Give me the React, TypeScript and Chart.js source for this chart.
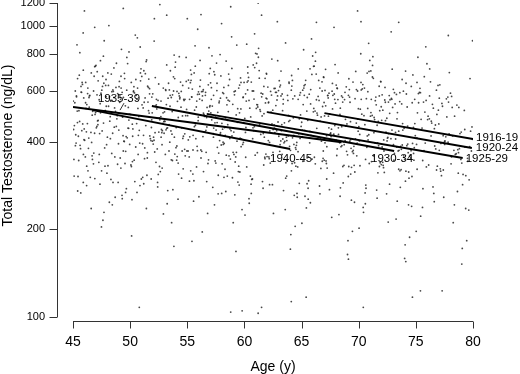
import React, { useEffect, useRef } from "react";
import { Chart, registerables } from "chart.js";

Chart.register(...registerables);

// ---- axis ticks and titles ----
const xTicks = [45, 50, 55, 60, 65, 70, 75, 80];
const yTicks = [100, 200, 400, 600, 800, 1000, 1200];
const xTitle = "Age (y)";
const yTitle = "Total Testosterone (ng/dL)";

// ---- cohort regression lines (age, total testosterone ng/dL) ----
const cohortLabels = ["1916-19", "1920-24", "1925-29", "1930-34", "1935-39", "1940-45"];
const cohortStartAge = [67.0, 62.0, 56.7, 51.9, 45.0, 46.7];
const cohortStartTT = [502, 506, 499, 531, 527, 514];
const cohortEndAge = [80.0, 79.9, 79.1, 73.1, 68.5, 64.0];
const cohortEndTT = [409, 381, 352, 372, 399, 378];

// ---- individual measurements: flattened [age, TT] pairs ----
const ages45to50 = [47.83,512,45.21,388,49.06,645,46.57,431,48.32,297,45.94,566,47.15,472,49.71,780,46.08,355,48.64,523,45.47,418,47.52,602,49.29,262,46.93,497,48.05,690,45.66,379,47.38,541,49.87,445,46.31,318,48.91,586,45.12,455,47.01,733,49.45,402,46.72,509,48.18,248,45.83,630,47.67,464,49.13,352,46.44,575,48.47,428,45.35,862,47.94,391,49.58,532,46.19,283,48.76,615,45.58,470,47.26,340,49.92,498,46.85,672,48.27,410,45.02,552,47.71,229,49.34,486,46.63,398,48.58,718,45.77,437,47.45,588,49.19,325,46.26,462,48.11,530,45.41,271,47.89,655,49.65,417,46.98,504,48.39,365,45.89,947,47.09,452,49.41,568,46.51,302,48.84,480,45.27,396,47.58,620,49.01,439,46.14,521,48.69,258,45.71,593,47.33,427,49.78,743,46.79,336,48.22,471,45.16,545,47.77,381,49.52,660,46.38,412,48.95,290,45.52,512,47.2,474,49.24,832,46.67,358,48.53,596,45.98,443,47.62,215,49.84,525,46.02,405,48.35,684,45.39,466,47.97,312,49.09,547,46.89,428,48.14,1004,45.62,389,47.41,503,49.67,276,46.47,578,48.79,452,45.08,348,47.86,625,49.38,420,46.21,537,48.44,243,45.85,461,47.12,697,49.96,392,46.74,515,48.06,331,45.31,571,47.55,436,49.21,612,46.35,380,48.88,492,45.68,267,47.29,558,49.74,413,46.96,728,48.61,449,45.44,304,47.91,530,49.49,401,46.11,640,48.26,488,45.91,362,47.04,447,49.16,560,46.59,236,48.72,509,45.24,423,47.66,788,49.61,371,46.42,526,48.01,415,45.75,592,47.36,286,49.89,475,46.82,366,48.49,603,45.05,441,47.81,512,49.31,255,46.28,586,48.98,394,45.55,678,47.18,458,49.55,337,46.68,494,48.31,552,45.96,407,47.49,204,49.03,619,46.17,433,48.66,355,45.37,510,47.73,890,49.81,446,46.91,299,48.19,573];
const ages50to55 = [52.74,441,50.38,589,54.12,356,51.66,502,53.29,272,50.91,648,52.18,430,54.77,377,51.04,536,53.85,795,50.22,418,52.46,309,54.36,568,51.37,455,53.08,362,50.65,612,52.91,226,54.58,491,51.82,404,53.52,702,50.07,333,52.33,519,54.03,448,51.19,287,53.71,580,50.84,396,52.6,476,54.91,645,51.51,367,53.17,537,50.45,931,52.05,415,54.24,310,51.93,503,53.43,603,50.16,253,52.82,437,54.69,560,51.28,381,53.94,722,50.57,462,52.26,340,54.45,526,51.72,419,53.36,636,50.98,298,52.69,488,54.14,551,51.09,394,53.63,211,50.29,594,52.97,428,54.82,358,51.44,765,53.01,507,50.72,421,52.41,280,54.3,575,51.86,448,53.79,669,50.11,329,52.55,483,54.61,411,51.23,547,53.24,245,50.8,438,52.12,1060,54.97,372,51.61,512,53.47,399,50.33,619,52.86,463,54.07,346,51.98,585,53.66,425,50.6,268,52.22,530,54.51,447,51.33,686,53.91,363,50.04,497,52.64,316,54.72,555,51.77,410,53.12,601,50.49,384,52.95,469,54.19,254,51.14,523,53.57,436,50.88,847,52.37,378,54.86,492,51.47,307,53.32,565,50.24,443,52.79,391,54.41,642,51.89,476,53.74,274,50.68,521,52.09,405,54.26,587,51.26,350,53.05,470,50.95,713,52.51,432,54.64,323,51.56,548,53.87,415,50.13,190,52.88,503,54.01,382,51.7,609,53.41,458,50.41,292,52.29,536,54.78,426,51.02,671,53.6,347,50.76,489,52.71,415,54.34,562,51.42,236,53.2,445,50.53,578,52.15,369,54.94,517,51.95,402,53.97,752,50.19,460,52.57,329,54.47,596,51.17,421,53.49,530,50.86,283,52.99,471,54.09,387,51.63,657,53.14,440,50.35,346,52.44,555,54.66,418,51.84,298,53.68,508,50.63,911,52.02,393,54.21,485,51.31,566,53.83,175,50.8,108,52.77,430,54.55,372,51.53,621,53.27,447];
const ages55to60 = [57.42,465,55.81,328,59.13,580,56.37,417,58.62,684,55.19,293,57.06,503,59.71,385,56.84,628,58.09,442,55.55,250,57.78,545,59.35,402,56.12,762,58.41,360,55.96,486,57.23,279,59.88,568,56.55,433,58.77,349,55.33,651,57.61,466,59.02,211,56.73,525,58.23,395,55.68,855,57.91,430,59.47,316,56.25,595,58.54,458,55.07,372,57.33,697,59.62,412,56.96,528,58.01,266,55.44,607,57.52,439,59.19,341,56.41,502,58.88,918,55.86,386,57.14,476,59.79,234,56.05,583,58.32,421,55.27,639,57.71,307,59.28,495,56.65,368,58.69,552,55.62,451,57.01,715,59.54,284,56.88,510,58.13,399,55.12,612,57.44,344,59.93,466,56.31,196,58.47,536,55.75,410,57.87,798,59.08,362,56.51,489,58.95,301,55.38,571,57.27,427,59.66,663,56.19,375,58.59,508,55.91,975,57.63,383,59.41,520,56.78,227,58.18,586,55.22,416,57.94,674,59.24,355,56.46,497,58.83,437,55.49,310,57.11,614,59.85,392,56.99,533,58.37,270,55.71,456,57.56,746,59.01,368,56.08,561,58.72,411,55.03,492,57.38,243,59.58,627,56.63,438,58.05,336,55.83,552,57.83,404,59.33,860,56.27,371,58.51,474,55.58,294,57.19,531,59.74,409,56.92,686,58.27,448,55.17,355,57.67,505,59.16,263,56.36,596,58.91,419,55.95,473,57.04,638,59.5,330,56.71,450,58.44,567,55.41,182,57.48,486,59.91,398,56.15,652,58.65,358,55.64,514,57.88,425,59.43,291,56.58,578,58.15,392,55.29,706,57.31,446,59.69,519,56.86,347,58.8,104,59.8,105,58.35,484,55.89,373,57.59,600,59.07,432,56.42,316,58.98,538,55.09,406,57.16,790,59.38,467,56.02,259,58.57,556,55.51,421,57.75,366,59.97,640,56.69,485,58.21,302,55.79,527,57.29,415,59.26,168,56.33,575,58.74,443,55.36,682,57.97,390,59.57,503,56.81,337,58.03,463,55.98,594];
const ages60to65 = [62.63,446,60.28,603,64.17,337,61.55,491,63.42,272,60.84,561,62.09,404,64.71,712,61.13,367,63.88,470,60.42,246,62.37,579,64.32,421,61.78,354,63.05,649,60.13,448,62.88,1035,64.55,389,61.36,516,63.61,300,60.69,598,62.22,436,64.03,374,61.92,688,63.27,458,60.05,224,62.75,533,64.87,411,61.22,781,63.73,345,60.55,487,62.45,285,64.24,562,61.65,427,63.15,627,60.94,360,62.01,506,64.62,258,61.46,588,63.53,401,61.2,103,60.2,866,62.56,444,64.11,318,61.84,544,63.95,386,60.36,666,62.94,468,64.44,205,61.04,521,63.36,409,61.5,108,60.77,735,62.14,355,64.8,480,61.58,292,63.2,575,60.09,431,62.69,611,64.39,339,61.71,500,63.67,415,60.6,266,62.29,596,64.96,452,61.29,703,63.09,371,60.47,522,62.82,437,64.06,192,61.97,562,63.46,397,60.89,940,62.41,461,64.66,328,61.09,537,63.83,419,60.24,642,62.17,350,64.28,484,61.63,277,63.3,584,60.72,410,62.91,760,64.51,377,61.4,509,63.57,234,60.16,552,62.51,441,64.13,676,61.88,363,63.98,474,60.52,305,62.05,617,64.75,426,61.17,527,63.12,391,60.98,806,62.6,457,64.36,262,61.51,571,63.71,404,60.32,648,62.26,338,64.91,495,61.74,415,63.39,540,60.81,437,62.98,600,64.02,171,61.33,459,63.77,578,60.11,354,64.1,113,62.48,514,64.58,398,61.94,684,63.23,437,60.64,297,62.12,548,64.47,382,61.06,745,63.5,465,60.4,255,62.72,592,64.21,413,61.69,333,63.91,636,60.87,451,62.33,506,64.69,370,61.24,838,63.01,418,60.58,286,62.85,557,64.33,392,61.81,661,63.63,339,60.03,481,62.54,227,64.84,579,61.43,424,63.34,512,60.75,447,62.2,398,64.15,622,61.98,356,63.86,493,60.29,723,62.66,430,64.6,266,61.15,536,63.18,403];
const ages65to70 = [67.58,417,65.24,578,69.13,329,66.62,471,68.37,260,65.79,540,67.05,397,69.74,698,66.12,354,68.86,453,65.42,237,67.33,566,69.29,407,66.81,343,68.03,627,65.09,439,67.84,990,69.52,374,66.35,502,68.64,289,65.67,583,67.19,420,69.02,361,66.94,666,68.22,447,65.03,210,67.71,519,69.86,396,66.21,757,68.71,332,65.54,474,67.44,274,69.24,547,66.65,411,68.13,610,65.92,349,67.01,491,69.63,248,66.45,573,68.53,388,65.18,829,67.55,429,69.09,304,66.84,529,68.94,371,65.36,651,67.91,455,69.45,197,66.03,507,68.33,397,65.74,713,67.14,344,69.79,464,66.57,282,68.18,559,65.06,417,67.67,597,69.37,327,66.71,487,68.67,400,65.58,254,67.28,577,69.95,435,66.28,684,68.08,359,65.46,510,67.82,425,69.06,183,66.97,546,68.45,385,65.87,903,67.39,447,69.66,315,66.07,521,68.81,404,65.22,624,67.17,337,69.28,469,66.61,265,68.59,569,65.71,397,67.93,737,69.54,365,66.39,494,68.27,225,65.14,537,67.51,427,69.14,659,66.88,351,68.97,461,65.62,294,67.05,601,69.71,409,66.18,510,68.12,378,65.97,789,67.62,442,69.36,252,66.53,555,68.73,391,65.31,629,67.24,325,69.91,479,66.74,402,68.39,522,65.82,421,67.86,584,69.02,164,66.33,445,68.76,559,65.11,343,69.1,158,67.46,499,69.58,386,66.92,668,68.23,424,65.48,287,67.11,532,69.45,370,66.05,727,68.51,451,65.77,247,67.74,578,69.22,402,66.69,324,68.91,618,65.28,438,67.35,490,69.83,358,66.23,812,68.04,405,65.57,277,67.97,543,69.33,380,66.79,643,68.61,329,65.01,467,67.64,220,69.68,563,66.42,411,68.36,497,65.73,434,67.21,385,69.18,605,66.98,346,68.84,478,65.4,117,69.97,520];
const ages70to75 = [72.48,403,70.22,560,74.13,317,71.61,456,73.37,250,70.79,521,72.05,384,74.74,679,71.12,342,73.86,439,70.42,229,72.33,547,74.29,393,71.81,329,73.03,606,70.09,424,72.84,955,74.52,361,71.35,485,73.64,279,70.67,563,72.19,406,74.02,348,71.94,643,73.22,431,70.03,202,72.71,501,74.86,382,71.21,732,73.71,321,70.54,458,72.44,265,74.24,527,71.65,397,73.13,590,70.92,337,72.01,474,74.63,240,71.45,554,73.53,374,70.18,803,72.55,414,74.09,293,71.84,512,73.94,358,70.36,629,72.91,439,74.45,188,71.03,490,73.33,384,70.4,108,70.74,689,72.14,332,74.79,448,71.57,273,73.18,540,70.06,403,72.67,577,74.37,315,71.71,470,73.67,386,70.58,245,72.28,557,74.95,420,71.28,661,73.08,346,70.46,492,72.82,410,74.06,177,71.97,528,73.45,372,70.87,872,72.39,432,74.66,304,71.07,504,73.81,390,70.22,603,72.17,326,74.28,453,71.61,256,73.59,550,70.71,383,72.93,711,74.54,352,71.39,477,73.27,217,70.14,518,72.51,412,74.14,636,71.88,339,73.97,445,70.62,284,72.05,580,74.71,395,71.18,493,73.12,365,70.97,762,72.62,427,74.36,243,71.53,536,73.73,377,70.31,608,72.24,314,74.91,462,71.74,388,73.39,504,70.82,406,72.86,564,74.02,159,71.33,430,73.76,540,70.11,331,74.12,155,72.46,482,74.58,373,71.92,645,73.23,409,70.64,277,72.11,514,74.45,357,71.06,701,73.5,435,70.39,238,72.74,558,74.21,388,71.68,313,73.91,597,70.88,423,72.34,473,74.83,346,71.24,785,73.04,391,70.56,267,72.97,525,74.33,367,71.79,621,73.61,318,70.01,451,72.58,212,74.68,545,71.42,397,73.35,480,70.75,419,72.21,372,74.17,584,71.98,334,73.84,462,74.7,117,70.27,498];
const ages75to80 = [77.52,392,75.24,545,79.13,309,76.62,444,78.37,243,75.79,506,77.05,374,79.74,660,76.12,333,78.86,427,75.42,222,77.33,530,79.29,384,76.81,320,78.03,588,75.09,413,77.84,928,79.52,351,76.35,471,78.64,270,75.67,548,77.19,395,79.02,338,76.94,625,78.22,419,75.03,197,77.71,487,79.86,372,76.21,712,78.71,312,75.54,446,77.44,258,79.24,513,76.65,387,78.13,573,75.92,328,77.01,461,79.63,233,76.45,538,78.53,364,75.18,781,77.55,403,79.09,285,76.84,497,78.94,348,75.36,611,77.91,426,79.45,183,76.03,477,78.33,374,75.4,123,75.74,670,77.14,323,79.79,435,76.57,266,78.18,525,75.06,392,77.67,562,79.37,306,76.71,457,78.67,376,75.58,238,77.28,542,79.95,408,76.28,643,78.08,336,75.46,478,77.82,399,79.06,172,76.97,514,78.45,362,75.87,848,77.39,420,79.66,296,76.07,490,78.81,379,75.22,586,77.17,317,79.28,441,76.61,249,78.59,535,75.71,373,77.93,692,79.54,343,76.39,464,78.27,211,75.14,503,77.51,401,77.3,123,76.88,330,78.97,432,75.62,276,77.05,565,79.71,385,76.18,480,78.12,355,75.97,742,77.62,416,79.36,236,76.53,522,78.73,367,75.31,591,77.24,306,79.91,450,76.74,378,78.39,490,75.82,396,77.86,548,79.02,152,76.33,419,78.76,525,75.11,322,79.96,890];
const upperCloud = [46.3,612,58.7,655,51.2,702,67.4,588,72.9,560,48.8,745,63.1,618,55.6,690,76.2,575,45.4,660,60.9,720,53.8,598,69.5,642,49.9,815,57.3,578,65.8,605,74.6,620,47.1,580,62.4,770,52.5,632,70.8,595,56.9,842,64.7,560,45.9,705,59.5,612,50.6,560,68.2,690,73.8,655,54.3,785,61.6,584,47.7,636,66.1,728,57.9,565,75.4,590,49.2,672,63.9,642,52.1,888,71.5,570,46.8,598,58.2,615,55.1,652,67.9,560,60.3,690,48.3,555,65.2,612,77.1,628,53.2,735,62.8,592,45.6,810,69.1,578,56.4,604,74.1,700,51.7,585,64.2,650,50.1,640,59.9,570,47.4,760,66.8,598,72.3,615,54.8,560,61.1,802,57.6,636,68.8,592,46.1,545,63.4,560,52.9,612,75.9,555,49.5,688,70.2,640,58.9,715,55.9,582,65.5,568,45.2,598,60.6,642,53.5,578,67.1,710,73.3,582,48.1,625,62.1,545,56.1,620,71.2,668,51.4,755,64.9,590,57.1,560,49.1,575,69.8,605,46.6,690,59.2,598,54.6,625,66.5,650,61.9,565,76.8,602,50.3,598,63.6,875,47.9,572,68.5,575,55.4,570,70.9,698,52.3,560,58.4,758,45.8,640,65.1,602,60.1,585,53.9,660,74.9,560,49.7,602,62.6,610,56.6,592,67.7,635,51.9,570,72.6,548,46.9,725,59.7,640,54.1,596,64.4,575,48.6,568,61.3,662,57.8,552,69.2,570,50.9,690,66.3,558,45.3,575,63.2,700,53.1,605,71.8,575,55.7,728,60.4,555,47.2,648,68.1,612,58.1,590,75.1,640,52.7,552,65.9,682,49.3,592,62.9,575,56.3,555,70.5,612,46.4,568,59.1,595,54.9,780,67.3,578,51.6,615,73.6,590,61.7,620,48.4,595,64.1,602,57.4,680,77.8,570,50.5,655,66.6,612,55.2,560,68.6,548,47.6,672,60.8,598,53.6,568,63.8,555,45.7,620,71.1,560,58.6,625,52.2,665,69.9,598];
const lowerCloud = [46.2,330,58.5,305,51.5,352,67.2,298,72.1,340,48.5,290,63.3,362,55.3,318,76.5,280,45.5,345,60.2,328,53.4,372,69.3,310,49.6,268,57.5,338,65.6,355,74.4,300,47.3,362,62.2,285,52.8,325,70.6,348,56.7,292,64.5,330,45.1,305,59.3,368,50.2,342,68.4,278,73.5,322,54.5,300,61.8,350,47.5,318,66.2,336,57.7,265,75.6,345,49.4,372,63.7,305,52.4,290,71.3,358,46.7,348,58.3,322,55.5,375,67.8,312,60.7,298,48.9,335,65.3,260,77.4,320,53.7,345,62.5,368,45.9,290,69.6,332,56.2,352,74.8,365,51.1,302,64.8,288,50.7,362,59.6,315,47.8,330,66.9,372,72.7,286,54.2,338];
const highOutliers = [46.0,1127,49.4,1150,52.6,1185,58.8,1165,61.2,1200,61.5,1090,53.2,1090,56.2,1095,69.9,1127,55.0,1060,73.5,1030,70.2,1035,46.9,990,58.0,1020,66.3,1030];

const scatterGroups = [ages45to50, ages50to55, ages55to60, ages60to65, ages65to70, ages70to75, ages75to80, upperCloud, lowerCloud, highOutliers];

// ---- label placement styles (px offsets from the line end, or from the leader) ----
const labelStyles = [
  { anchor: "end", align: "left", dx: 3, dy: -1 },
  { anchor: "end", align: "left", dx: 4, dy: 0 },
  { anchor: "end", align: "left", dx: 3, dy: 1 },
  { anchor: "end", align: "center", dx: -2, dy: 8 },
  { anchor: "leader", align: "center", dx: 46, dy: -14 },
  { anchor: "end", align: "center", dx: 1, dy: 10 },
];

const FONT = "'Liberation Sans', Arial, Helvetica, sans-serif";

function pairs(arr: number[]) {
  const out: { x: number; y: number }[] = [];
  for (let i = 0; i + 1 < arr.length; i += 2) out.push({ x: arr[i], y: arr[i + 1] });
  return out;
}

const rAxesPlugin = {
  id: "rAxes",
  afterDraw(chart: any) {
    const ctx = chart.ctx;
    const xs = chart.scales.x;
    const ys = chart.scales.y;
    const area = chart.chartArea;
    ctx.save();
    ctx.strokeStyle = "#333";
    ctx.lineWidth = 1;
    // y axis (detached)
    const ax = Math.round(area.left - 16) + 0.5;
    const yTop = ys.getPixelForValue(yTicks[yTicks.length - 1]);
    const yBot = ys.getPixelForValue(yTicks[0]);
    ctx.beginPath();
    ctx.moveTo(ax, yTop);
    ctx.lineTo(ax, yBot);
    yTicks.forEach((v) => {
      const py = Math.round(ys.getPixelForValue(v)) + 0.5;
      ctx.moveTo(ax - 8, py);
      ctx.lineTo(ax, py);
    });
    // x axis (detached)
    const ay = Math.round(area.bottom + 4) + 0.5;
    const xL = xs.getPixelForValue(xTicks[0]);
    const xR = xs.getPixelForValue(xTicks[xTicks.length - 1]);
    ctx.moveTo(xL, ay);
    ctx.lineTo(xR, ay);
    xTicks.forEach((v) => {
      const px = Math.round(xs.getPixelForValue(v)) + 0.5;
      ctx.moveTo(px, ay);
      ctx.lineTo(px, ay + 7);
    });
    ctx.stroke();

    // y-axis title
    ctx.fillStyle = "#000";
    ctx.save();
    ctx.translate(8, 145.5);
    ctx.rotate(-Math.PI / 2);
    ctx.font = `14px ${FONT}`;
    ctx.textAlign = "center";
    ctx.textBaseline = "middle";
    ctx.fillText(yTitle, 0, 0);
    ctx.restore();

    // cohort labels
    ctx.font = `11.5px ${FONT}`;
    ctx.textBaseline = "middle";
    cohortLabels.forEach((lab, i) => {
      const st = labelStyles[i];
      const sx = xs.getPixelForValue(cohortStartAge[i]);
      const sy = ys.getPixelForValue(cohortStartTT[i]);
      const ex = xs.getPixelForValue(cohortEndAge[i]);
      const ey = ys.getPixelForValue(cohortEndTT[i]);
      ctx.textAlign = st.align as CanvasTextAlign;
      if (st.anchor === "leader") {
        const lx = sx + 47;
        const ly = sy + ((ey - sy) * (lx - sx)) / (ex - sx);
        ctx.beginPath();
        ctx.moveTo(lx, ly - 3);
        ctx.lineTo(lx + 4, ly - 10);
        ctx.stroke();
        ctx.fillText(lab, sx + st.dx, ly + st.dy);
      } else {
        ctx.fillText(lab, ex + st.dx, ey + st.dy);
      }
    });
    ctx.restore();
  },
};

export default function App() {
  const ref = useRef<HTMLCanvasElement | null>(null);
  useEffect(() => {
    document.body.style.margin = "0";
    const canvas = ref.current!;
    const lineSets = cohortLabels.map((lab, i) => ({
      type: "line" as const,
      label: lab,
      data: [
        { x: cohortStartAge[i], y: cohortStartTT[i] },
        { x: cohortEndAge[i], y: cohortEndTT[i] },
      ],
      borderColor: "#000",
      borderWidth: 2,
      pointRadius: 0,
      fill: false,
      tension: 0,
    }));
    const dots = {
      type: "scatter" as const,
      label: "subjects",
      data: scatterGroups.flatMap((g) => pairs(g)),
      pointRadius: 0.9,
      pointHoverRadius: 0,
      backgroundColor: "rgba(40,40,40,0.85)",
      borderWidth: 0,
    };
    const chart = new Chart(canvas, {
      type: "scatter",
      data: { datasets: [...lineSets, dots] as any },
      options: {
        animation: false,
        responsive: false,
        maintainAspectRatio: false,
        events: [],
        layout: { padding: { top: 3, right: 47, left: 0, bottom: 0 } },
        plugins: { legend: { display: false }, tooltip: { enabled: false } },
        scales: {
          x: {
            type: "linear",
            min: xTicks[0],
            max: xTicks[xTicks.length - 1],
            afterBuildTicks: (s: any) => {
              s.ticks = xTicks.map((v) => ({ value: v }));
            },
            afterFit: (s: any) => {
              s.height = 57;
              s.paddingLeft = 0;
              s.paddingRight = 0;
            },
            grid: { display: false, drawTicks: false },
            border: { display: false },
            ticks: { color: "#000", font: { size: 14, family: FONT }, padding: 17, maxRotation: 0, autoSkip: false },
            title: { display: true, text: xTitle, color: "#000", font: { size: 14, family: FONT, lineHeight: 1 }, padding: 0 },
          },
          y: {
            type: "logarithmic",
            min: yTicks[0],
            max: yTicks[yTicks.length - 1],
            afterBuildTicks: (s: any) => {
              s.ticks = yTicks.map((v) => ({ value: v }));
            },
            afterFit: (s: any) => {
              s.width = 73;
              s.paddingTop = 0;
              s.paddingBottom = 0;
            },
            grid: { display: false, drawTicks: false },
            border: { display: false },
            ticks: {
              color: "#000",
              font: { size: 11, family: FONT },
              padding: 28,
              autoSkip: false,
              callback: (v: any) => String(v),
            },
            title: { display: false },
          },
        },
      },
      plugins: [rAxesPlugin],
    });
    return () => chart.destroy();
  }, []);
  return (
    <div style={{ position: "absolute", left: 0, top: 0, width: 520, height: 374 }}>
      <canvas ref={ref} width={520} height={374} style={{ width: 520, height: 374, display: "block" }} />
    </div>
  );
}
